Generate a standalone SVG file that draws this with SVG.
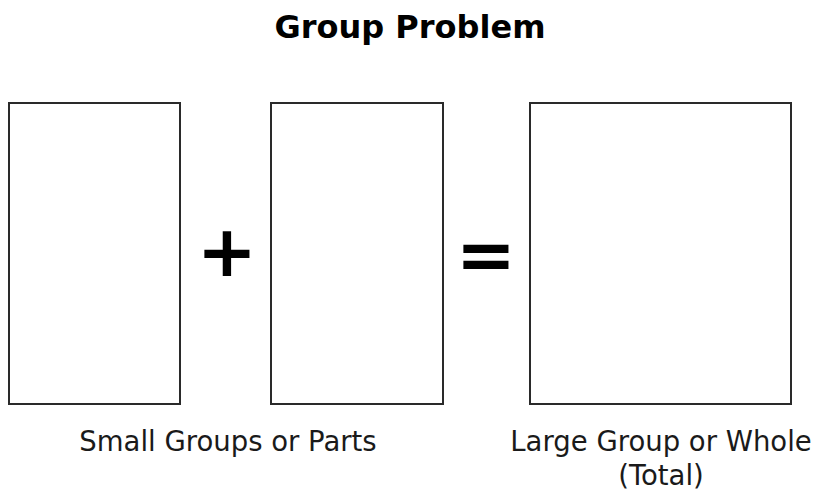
<svg xmlns="http://www.w3.org/2000/svg" width="817" height="493" viewBox="0 0 817 493">
<style>
.box{fill:#fff;stroke:#2a2a2a;stroke-width:2}
.lbl{font-family:"DejaVu Sans",sans-serif;font-size:27.5px;fill:#1a1a1a;text-anchor:middle}
.op{font-family:"DejaVu Sans",sans-serif;font-weight:bold;fill:#000;text-anchor:middle}
</style>
<rect width="817" height="493" fill="#fff"/>
<text x="410" y="38" font-family="DejaVu Sans, sans-serif" font-weight="bold" font-size="32" text-anchor="middle" fill="#000">Group Problem</text>
<g id="part1"><rect class="box" x="9" y="103" width="171" height="301"/></g>
<g id="part2"><rect class="box" x="271" y="103" width="172" height="301"/></g>
<g id="whole"><rect class="box" x="530" y="103" width="261" height="301"/></g>
<g id="connectors">
<text class="op" x="227" y="276" font-size="72">+</text>
<text class="op" x="486" y="279" font-size="72">=</text>
</g>
<text class="lbl" x="228" y="451">Small Groups or Parts</text>
<text class="lbl" x="661" y="451">Large Group or Whole</text>
<text class="lbl" x="661" y="485">(Total)</text>
</svg>
